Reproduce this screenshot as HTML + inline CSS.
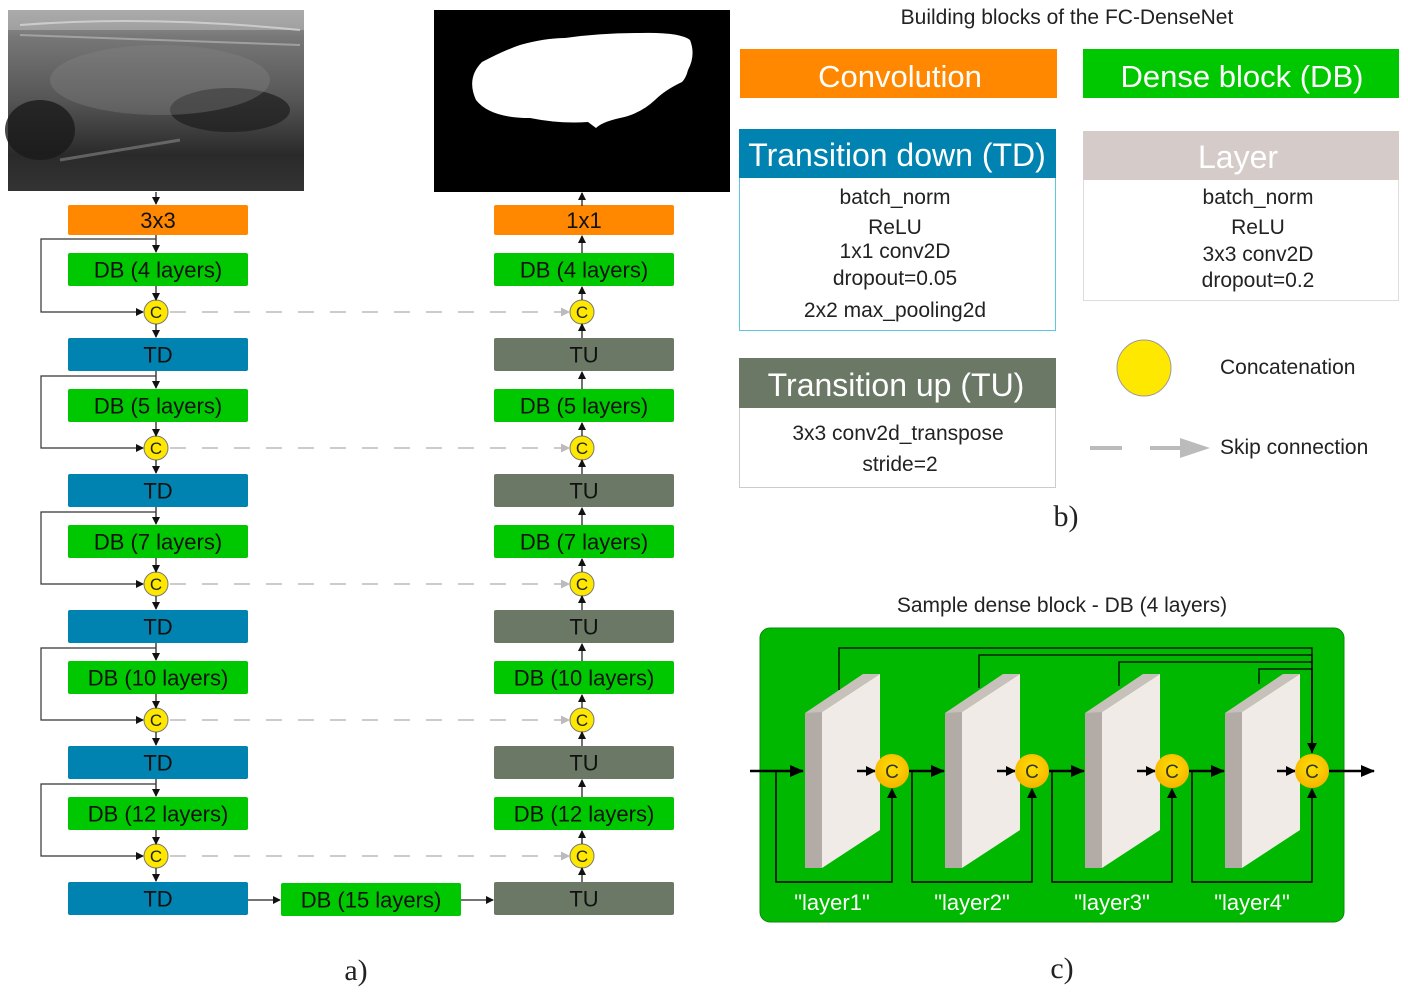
<!DOCTYPE html>
<html><head><meta charset="utf-8">
<style>
html,body{margin:0;padding:0;background:#fff;}
svg{display:block;font-family:"Liberation Sans","DejaVu Sans",sans-serif;}
</style></head>
<body>
<svg id="fig" width="1408" height="997" viewBox="0 0 1408 997" xmlns="http://www.w3.org/2000/svg">
<defs>
<marker id="ah" markerWidth="8" markerHeight="8" refX="7" refY="4" orient="auto" markerUnits="userSpaceOnUse"><path d="M0,0 L8,4 L0,8 z" fill="#111"/></marker>
<marker id="ahg" markerWidth="9" markerHeight="9" refX="8" refY="4.5" orient="auto" markerUnits="userSpaceOnUse"><path d="M0,0 L9,4.5 L0,9 z" fill="#bbb"/></marker>
<marker id="ahb" markerWidth="14" markerHeight="14" refX="13" refY="7" orient="auto" markerUnits="userSpaceOnUse"><path d="M0,1 L14,7 L0,13 z" fill="#000"/></marker>
<marker id="ahs" markerWidth="10" markerHeight="10" refX="9" refY="5" orient="auto" markerUnits="userSpaceOnUse"><path d="M0,0 L10,5 L0,10 z" fill="#000"/></marker>
<linearGradient id="us" x1="0" y1="0" x2="0" y2="1">
<stop offset="0" stop-color="#9a9a9a"/><stop offset="0.15" stop-color="#777"/><stop offset="0.5" stop-color="#555"/><stop offset="0.8" stop-color="#2a2a2a"/><stop offset="1" stop-color="#333"/></linearGradient>
<radialGradient id="cg" cx="0.5" cy="0.4" r="0.6"><stop offset="0" stop-color="#ffe000"/><stop offset="1" stop-color="#f5b400"/></radialGradient>
</defs>

<g>
<rect x="8" y="10" width="296" height="181" fill="url(#us)"/>
<rect x="8" y="10" width="296" height="20" fill="#b5b5b5" opacity="0.6"/>
<ellipse cx="40" cy="130" rx="35" ry="30" fill="#1a1a1a" opacity="0.8"/>
<ellipse cx="230" cy="110" rx="60" ry="22" fill="#1c1c1c" opacity="0.7"/>
<ellipse cx="160" cy="80" rx="110" ry="35" fill="#888" opacity="0.35"/>
<path d="M60,160 L180,140" stroke="#999" stroke-width="3" opacity="0.5"/>
<path d="M20,25 Q150,15 300,30" stroke="#ddd" stroke-width="2" fill="none" opacity="0.7"/>
<path d="M20,35 Q150,40 300,45" stroke="#ccc" stroke-width="2" fill="none" opacity="0.5"/>
</g>

<g>
<rect x="434" y="10" width="296" height="182" fill="#000"/>
<path d="M482,62 Q505,50 520,45 Q545,38 565,38 Q600,33 640,33 Q680,32 690,40 Q696,55 688,70 Q686,78 682,82 Q665,90 655,100 Q640,114 620,118 Q602,122 596,128 L588,122 Q560,124 530,118 Q490,118 476,100 Q466,78 482,62 z" fill="#fff"/>
</g>

<g id="left"></g>

<text x="1067" y="24" font-size="21" text-anchor="middle" fill="#222">Building blocks of the FC-DenseNet</text>
<g>
<rect x="740" y="49" width="317" height="49" fill="#ff8800"/>
<text x="900" y="87" font-size="31" text-anchor="middle" fill="#fff">Convolution</text></g>
<g>
<rect x="1083" y="49" width="316" height="49" fill="#00c800"/>
<text x="1242" y="87" font-size="31" text-anchor="middle" fill="#fff">Dense block (DB)</text></g>

<g>
<rect x="739.5" y="129.5" width="316" height="201" fill="#fff" stroke="#5bc8e0"/>
<rect x="739" y="129" width="317" height="49" fill="#0083b0"/>
<text x="897" y="166" font-size="32" text-anchor="middle" fill="#fff">Transition down (TD)</text>
<g font-size="21" text-anchor="middle" fill="#222">
<text x="895" y="204">batch_norm</text><text x="895" y="234">ReLU</text>
<text x="895" y="258">1x1  conv2D</text><text x="895" y="285">dropout=0.05</text>
<text x="895" y="317">2x2 max_pooling2d</text></g></g>

<g>
<rect x="1083.5" y="131.5" width="315" height="169" fill="#fff" stroke="#ddd"/>
<rect x="1083" y="131" width="316" height="49" fill="#d5cbc9"/>
<text x="1238" y="168" font-size="32" text-anchor="middle" fill="#fff">Layer</text>
<g font-size="21" text-anchor="middle" fill="#222">
<text x="1258" y="204">batch_norm</text><text x="1258" y="234">ReLU</text>
<text x="1258" y="261">3x3  conv2D</text><text x="1258" y="287">dropout=0.2</text></g></g>

<g>
<rect x="739.5" y="358.5" width="316" height="129" fill="#fff" stroke="#ccc"/>
<rect x="739" y="358" width="317" height="50" fill="#6b7866"/>
<text x="896" y="396" font-size="32" text-anchor="middle" fill="#fff">Transition up (TU)</text>
<g font-size="21" text-anchor="middle" fill="#222">
<text x="898" y="440">3x3 conv2d_transpose</text><text x="900" y="471">stride=2</text></g></g>

<g>
<ellipse cx="1144" cy="368" rx="27" ry="28" fill="#ffe800" stroke="#999"/>
<text x="1220" y="374" font-size="21" fill="#222">Concatenation</text></g>
<g>
<line x1="1090" y1="448" x2="1122" y2="448" stroke="#bbb" stroke-width="4"/>
<line x1="1150" y1="448" x2="1180" y2="448" stroke="#bbb" stroke-width="4"/>
<path d="M1180,438 L1210,448 L1180,458 z" fill="#bbb"/>
<text x="1220" y="454" font-size="21" fill="#222">Skip connection</text></g>
<text x="1066" y="526" font-size="30" font-family="Liberation Serif,serif" text-anchor="middle" fill="#222">b)</text>

<text x="1062" y="612" font-size="21" text-anchor="middle" fill="#222">Sample dense block - DB (4 layers)</text>
<rect x="760" y="628" width="584" height="294" rx="10" fill="#00b800" stroke="#0a8a0a"/>
<g id="dbc"></g>
<text x="1062" y="978" font-size="30" font-family="Liberation Serif,serif" text-anchor="middle" fill="#222">c)</text>
<text x="356" y="980" font-size="30" font-family="Liberation Serif,serif" text-anchor="middle" fill="#222">a)</text>
</svg>

<script>
const NS="http://www.w3.org/2000/svg";
const dbLayers=[4,5,7,10,12];
const bottleneckLayers=15;
const layerNames=["layer1","layer2","layer3","layer4"];

function mk(parent,tag,attrs,text){const e=document.createElementNS(NS,tag);for(const k in attrs)e.setAttribute(k,attrs[k]);if(text!==undefined)e.textContent=text;parent.appendChild(e);return e;}
const L=document.getElementById('left');
const COL={conv:"#ff8800",db:"#00c800",td:"#0083b0",tu:"#6b7866"};
function box(x,y,w,h,c,t,name){const g=mk(L,'g',{});


mk(g,'rect',{x:x,y:y,width:w,height:h,rx:2,fill:c});
mk(g,'text',{x:x+w/2,y:y+h/2+8,'font-size':22,'text-anchor':'middle',fill:'#111'},t);}
function arrow(x1,y1,x2,y2){const l=mk(L,'line',{x1:x1,y1:y1,x2:x2,y2:y2,stroke:'#222','stroke-width':1.3,'marker-end':'url(#ah)'});

}
function concat(cx,cy){const g=mk(L,'g',{});


mk(g,'circle',{cx:cx,cy:cy,r:12,fill:'#ffe800',stroke:'#777'});
mk(g,'text',{x:cx,y:cy+6,'font-size':17,'text-anchor':'middle',fill:'#222'},'C');}

const LX=68,RX=494,W=180,CXL=156,CXR=582,P=136;
box(LX,205,W,30,COL.conv,'3x3','conv-3x3');
box(RX,205,W,30,COL.conv,'1x1','conv-1x1');
arrow(CXL,192,CXL,204);
arrow(CXR,206,CXR,193);
dbLayers.forEach((n,i)=>{
 const o=i*P;
 const dbY=253+o, cY=312+o, tY=338+o;
 box(LX,dbY,W,33,COL.db,'DB ('+n+' layers)','db-left-'+n);
 box(RX,dbY,W,33,COL.db,'DB ('+n+' layers)','db-right-'+n);
 concat(CXL,cY);concat(CXR,cY);
 box(LX,tY,W,33,COL.td,'TD','transition-down-'+(i+1));
 box(RX,tY,W,33,COL.tu,'TU','transition-up-'+(i+1));
 const prevBottom=(i==0?235:tY-P+33);
 arrow(CXL,prevBottom,CXL,dbY-1);
 arrow(CXL,dbY+33,CXL,cY-12);
 arrow(CXL,cY+12,CXL,tY-1);
 arrow(CXR,tY,CXR,cY+12);
 arrow(CXR,cY-12,CXR,dbY+34);
 arrow(CXR,dbY,CXR,(i==0?236:tY-P+34));
 const ly=(i==0?239:tY-P+38);
 const p=mk(L,'path',{d:`M${CXL},${ly} L41,${ly} L41,${cY} L${CXL-13},${cY}`,fill:'none',stroke:'#333','stroke-width':1.2,'marker-end':'url(#ah)'});
 
 
 const s=mk(L,'line',{x1:CXL+14,y1:cY,x2:CXR-13,y2:cY,stroke:'#bbb','stroke-width':1.6,'stroke-dasharray':'16,16','marker-end':'url(#ahg)'});
 
 
});
box(281,883,180,33,COL.db,'DB ('+bottleneckLayers+' layers)','db-bottleneck');
arrow(248,900,280,900);arrow(461,900,493,900);

const C=document.getElementById('dbc');
const lx0=805, step=140, cy=771;
mk(C,'line',{x1:750,y1:cy,x2:803,y2:cy,stroke:'#000','stroke-width':2.5,'marker-end':'url(#ahb)'});
layerNames.forEach((nm,i)=>{
 const x=lx0+i*step, ccx=892+i*step;
 const g=mk(C,'g',{});
 
 
 mk(g,'polygon',{points:`${x},${713} ${x+17},${710} ${x+17},${868} ${x},${868}`,fill:'#b3aba6'});
 mk(g,'polygon',{points:`${x},${713} ${x+58},${674} ${x+75},${674} ${x+17},${712}`,fill:'#c8c0bb'});
 mk(g,'polygon',{points:`${x+17},${712} ${x+75},${674} ${x+75},${830} ${x+17},${868}`,fill:'#f1ebe8'});
 mk(C,'line',{x1:x+52,y1:cy,x2:ccx-17,y2:cy,stroke:'#000','stroke-width':2.5,'marker-end':'url(#ahs)'});
 const bx=(i==0?776:ccx-step+20);
 mk(C,'path',{d:`M${bx},${cy} L${bx},${882} L${ccx},${882} L${ccx},${cy+18}`,fill:'none',stroke:'#000','stroke-width':1.5,'marker-end':'url(#ahs)'});
 const ty=648+i*7, tx=x+34;
 mk(C,'path',{d:`M${tx},${690-i*2} L${tx},${ty} L1312,${ty} L1312,${cy-18}`,fill:'none',stroke:'#000','stroke-width':1.3});
 if(i<3) mk(C,'line',{x1:ccx+17,y1:cy,x2:ccx+step-88,y2:cy,stroke:'#000','stroke-width':2.5,'marker-end':'url(#ahb)'});
 const t=mk(C,'text',{x:832+i*step,y:910,'font-size':22,'text-anchor':'middle',fill:'#fff'},'"'+nm+'"');
 
 
});
mk(C,'path',{d:'M1312,735 L1312,752',stroke:'#000','stroke-width':1.5,'marker-end':'url(#ahs)'});
layerNames.forEach((nm,i)=>{
 const ccx=892+i*step;
 const g=mk(C,'g',{});
 
 
 mk(g,'circle',{cx:ccx,cy:cy,r:17,fill:'url(#cg)'});
 mk(g,'text',{x:ccx,y:cy+7,'font-size':19,'text-anchor':'middle',fill:'#333'},'C');
});
mk(C,'line',{x1:1329,y1:cy,x2:1374,y2:cy,stroke:'#000','stroke-width':2.5,'marker-end':'url(#ahb)'});
</script>
</body></html>
